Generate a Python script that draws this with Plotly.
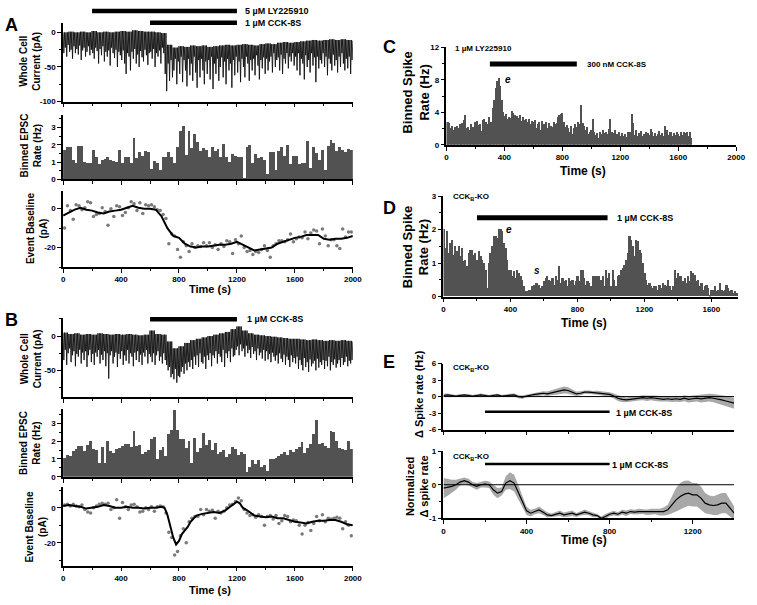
import plotly.graph_objects as go

# ---------------- DATA ----------------
# Panel A: whole-cell current (pA): baseline (every 40 s) and event minima (every 10 s)
a_top = [0, 1, 0, 1, 0, 2, 0, 1, 0, 1, 2, 1, 3, 2, 1, 1, 0, -1, -18, -22,
         -20, -21, -19, -20, -19, -21, -20, -19, -18, -19, -18, -17, -18, -19, -17, -16,
         -17, -15, -14, -15, -14, -13, -12, -11, -12, -11, -10, -11, -10, -11, -12]
a_min = [-30, -22, -35, -18, -28, -25, -38, -20, -30, -24, -32, -19, -40, -26, -22, -35, -28, -20, -33, -25,
         -30, -38, -22, -27, -45, -24, -33, -20, -42, -28, -35, -26, -48, -22, -30, -37, -25, -50, -28, -33,
         -40, -26, -45, -60, -30, -35, -55, -28, -38, -24, -45, -32, -50, -27, -36, -42, -25, -33, -47, -30,
         -28, -38, -24, -50, -30, -35, -26, -45, -22, -30,
         -60, -85, -45, -70, -40, -65, -55, -38, -75, -42,
         -60, -35, -72, -40, -55, -78, -38, -62, -45, -70, -35, -58, -80, -40, -65, -38, -55, -75, -42, -60,
         -40, -68, -35, -82, -45, -60, -38, -70, -50, -36, -65, -42, -75, -38, -55, -45, -80, -40, -62, -35,
         -58, -42, -72, -38, -50, -65, -35, -45, -70, -40, -55, -38, -62, -33, -48, -68, -40, -52, -36, -60,
         -38, -55, -42, -35, -58, -30, -50, -40, -36, -55, -32, -60, -38, -45, -30, -52, -35, -42, -30, -48,
         -35, -55, -30, -62, -38, -45, -68, -33, -50, -40, -58, -30, -48, -36, -72, -35, -52, -40, -45, -30,
         -50, -35, -62, -38, -45, -55, -32, -48, -40, -58, -35, -50, -30, -45, -55, -38, -52, -35, -60, -40]
# Panel A: binned EPSC rate (Hz), 20 s bins
a_rate = [1.7, 1.85, 1.85, 1.1, 0.9, 1.9, 1.9, 1.0, 0.95, 0.9, 1.65, 1.3, 0.85, 1.1, 1.15, 1.3, 1.1, 1.05, 1.0, 1.65,
          0.9, 1.3, 1.3, 0.9, 2.4, 1.2, 1.55, 1.35, 1.6, 1.55, 0.6, 1.05, 0.95, 0.55, 1.25, 1.3, 1.55, 1.3, 0.95, 1.85,
          2.8, 3.05, 1.4, 2.75, 1.8, 2.6, 2.15, 1.6, 1.8, 1.65, 1.3, 1.85, 1.6, 1.75, 1.25, 2.0, 1.3, 1.0, 1.45, 1.35,
          1.25, 1.25, 0.05, 1.85, 1.95, 0.95, 1.45, 1.2, 1.3, 1.1, 0.3, 1.55, 1.55, 0.5, 1.6, 1.85, 1.35, 1.95, 0.85, 1.35,
          1.35, 0.85, 0.9, 0.95, 2.2, 0.65, 1.85, 1.5, 1.1, 1.65, 0.55, 1.9, 2.25, 2.1, 1.6, 1.85, 1.7, 1.55, 1.75, 1.7]
# Panel A: event baseline (pA) - points every 20 s, smoothed line every 40 s
a_pts = [-10, 1.5, -1, -5.5, 2, 1.5, -0.5, 0.5, 3.5, 3, -4, -3, -2.5, 0.5, -1.5, -8.5, 0, -4, 1.5, 1,
         -3.5, -2, 0.5, 3.5, 2.5, -1, 3, -2.5, 2, 1.5, 2, 1, -0.5, -1, -3, -5, -18, -13, -14, -21,
         -25, -17, -19, -22, -18, -20, -19, -19.5, -17.5, -19, -17.5, -20, -18.5, -21, -18, -19.5, -16.5, -17, -23, -16,
         -18, -14, -20, -22, -21.5, -23.5, -22, -22.5, -21, -19, -21.5, -25, -19, -18, -16.5, -16.5, -17, -16, -13, -17,
         -15.5, -14.5, -15, -12, -15.5, -12.5, -11, -11.5, -18, -10.5, -14, -19, -16, -16, -19, -20.5, -10.5, -14.5, -12, -12]
a_line = [-3.5, -2, -0.5, 0.5, -0.5, -1, -2, -2.5, -1.5, -1,
          -0.5, 0.5, 1.5, 0.5, 0, 0, -0.5, -4, -10, -14,
          -15, -18, -19.5, -20, -19.5, -19.5, -19, -18.5, -18.5, -18,
          -17, -18.5, -20, -21.5, -21, -20.5, -20, -18, -17, -16,
          -15, -14.5, -13.5, -13.5, -13.5, -15.5, -16, -15.5, -15.5, -15,
          -14]

# Panel B
b_top = [5, 3, 4, 2, 3, 2, 4, 3, 2, 3, 2, 3, 2, 1, 2, 8, 3, 2, -8, -18,
         -15, -10, -6, -4, -2, 0, 2, 4, 6, 10, 14, 8, 4, 2, 1, 0, -1, -2, -3, -4,
         -4, -5, -6, -5, -6, -7, -6, -7, -6, -7, -8]
b_min = [-35, -20, -42, -25, -18, -38, -28, -22, -44, -26, -30, -20, -40, -24, -35, -22, -45, -28, -20, -38,
         -26, -42, -24, -30, -20, -40, -27, -35, -22, -44, -25, -62, -28, -22, -40, -30, -24, -45, -26, -33,
         -22, -42, -28, -36, -20, -40, -25, -30, -44, -24, -35, -22, -38, -27, -42, -24, -30, -20, -40, -26,
         -30, -38, -25, -42, -28, -22, -36, -30, -40, -25,
         -35, -42, -50, -45, -60, -55, -63, -48, -68, -58,
         -60, -52, -45, -55, -40, -50, -38, -45, -35, -48,
         -30, -42, -28, -45, -25, -38, -40, -30, -48, -28,
         -35, -25, -44, -28, -32, -22, -40, -26, -30, -38, -20, -45, -25, -32, -22, -38, -18, -30, -28, -20,
         -15, -28, -12, -22, -18, -30, -14, -25, -20, -32, -16, -26, -22, -35, -18, -28, -24, -33, -20, -36,
         -22, -34, -26, -38, -24, -30, -36, -28, -40, -25, -33, -38, -27, -42, -30, -35, -45, -28, -38, -32,
         -40, -30, -48, -35, -42, -50, -32, -45, -38, -52, -34, -44, -40, -36, -50, -33, -46, -38, -42, -35,
         -48, -36, -44, -30, -50, -38, -42, -34, -46, -40, -35, -45, -32, -42, -38, -30, -44, -36, -40, -35]
b_rate = [1.05, 1.25, 1.2, 1.45, 1.55, 1.75, 1.75, 1.45, 1.8, 2.0,
          1.55, 1.5, 0.8, 1.65, 0.8, 2.0, 1.45, 1.35, 1.55, 1.6,
          1.75, 1.85, 1.85, 1.65, 2.55, 1.75, 1.8, 1.3, 1.4, 1.5,
          2.1, 2.25, 1.0, 1.5, 1.65, 1.2, 2.4, 2.6, 3.75, 2.65,
          2.15, 2.15, 1.6, 2.0, 0.8, 2.2, 1.4, 1.6, 2.45, 1.8,
          2.05, 1.5, 1.9, 1.3, 1.4, 1.5, 1.1, 1.3, 1.7, 1.55,
          1.25, 1.4, 1.3, 0.3, 0.55, 0.95, 0.75, 0.95, 0.55, 0.65,
          0.35, 1.0, 1.0, 1.05, 1.2, 1.3, 1.4, 1.25, 1.5, 1.4,
          1.55, 1.65, 1.95, 1.35, 1.6, 1.85, 2.4, 3.2, 1.85, 1.9,
          1.75, 1.6, 2.55, 2.5, 2.0, 1.6, 1.55, 1.5, 2.0, 1.55]
b_pts = [1.5, 2, 1, 2, 1, 0.5, 1.5, -1, -2.5, -3, 0, 1, 2, 2.5, 2, 2.5, -1, 0, 4.5, -6,
         3, 0.5, -1, 1.5, 2, 0.5, -2.5, -2, 0, -1, 0.5, -2, 0.5, 1, 0.5, -3, -14, -17, -27, -25,
         -16, -12, -20, -8, -6, -5, -5, -1, -4, -1, -2, -1.5, -6, -2, -3, -2, 0, 1.5, 2, 3.5,
         5.5, 4, -1, -3, -4.5, -4, -5.5, -4, -5, -10, -5, -4.5, -6.5, -4.5, -9, -7.5, -4.5, -5, -8, -7,
         -7.5, -10, -15, -10, -8.5, -13, -9, -5, -7.5, -4, -8, -6, -6.5, -6, -5.5, -6, -12, -8, -10, -16]
b_line_t = [0, 40, 80, 120, 160, 200, 240, 280, 320, 360, 400, 440, 480, 520, 560, 600, 640, 680,
            700, 720, 740, 760, 780, 800, 820, 840, 860, 880, 900, 920, 960, 1000, 1040, 1080, 1120, 1160, 1200,
            1220, 1240, 1280, 1320, 1360, 1400, 1440, 1480, 1520, 1560, 1600, 1640, 1680, 1720, 1760, 1800,
            1840, 1880, 1920, 1960, 2000]
b_line = [1, 1.5, 1, 0.5, -0.5, 0, 0.5, 1.5, 1, 0, 0, 0.5, 0, 0, -0.5, 0, 0, 0.5,
          0, -4, -10, -17, -21, -19, -15, -13, -11, -8, -6, -4.5, -3.5, -3, -2.5, -3, -1.5, 1, 3.5,
          2.5, 0, -2, -4.5, -5, -5.5, -5, -6, -6, -7, -8, -8.5, -9, -8, -7.5, -7.5,
          -7, -7, -8, -9.5, -10]

# Panel C: binned spike rate (Hz), 10 s bins
c_rate = [2.8, 2.8, 2.6, 2.0, 2.3, 1.8, 2.2, 2.3, 2.0, 2.5,
          2.5, 2.6, 3.0, 3.6, 2.0, 2.2, 1.8, 2.5, 2.2, 2.0,
          2.8, 2.9, 2.4, 2.5, 1.7, 3.0, 3.2, 2.8, 2.5, 3.4,
          2.5, 2.8, 4.5, 5.5, 7.0, 7.8, 8.2, 7.2, 5.5, 4.0,
          3.5, 3.8, 3.2, 3.4, 3.3, 4.1, 3.9, 3.6, 3.0, 3.5,
          3.3, 3.6, 2.9, 3.4, 3.0, 3.2, 2.8, 3.1, 2.5, 2.9,
          2.8, 3.0, 2.0, 2.5, 2.8, 1.8, 2.9, 2.5, 2.2, 2.8,
          2.0, 2.6, 2.3, 2.2, 2.8, 2.5, 2.6, 3.4, 3.6, 3.8,
          3.9, 2.8, 2.2, 2.4, 2.0, 1.6, 2.3, 1.3, 2.0, 2.5,
          2.2, 2.8, 2.5, 4.9, 2.6, 2.3, 1.8, 2.2, 1.3, 1.5,
          1.8, 3.1, 1.5, 1.2, 1.4, 0.8, 1.6, 1.3, 1.8, 1.4,
          1.6, 1.3, 1.9, 3.1, 1.5, 1.4, 1.8, 1.2, 1.3, 1.6,
          1.0, 1.4, 1.1, 1.3, 0.9, 1.5, 1.2, 1.6, 3.7, 2.6,
          1.2, 1.8, 1.0, 1.4, 1.7, 1.0, 1.3, 1.0, 1.6, 1.4,
          1.2, 1.9, 1.5, 1.1, 1.4, 1.0, 1.3, 1.7, 1.2, 1.4,
          1.1, 2.3, 1.8, 1.2, 1.5, 1.6, 1.0, 1.4, 1.2, 1.6,
          1.3, 1.0, 1.5, 1.2, 1.6, 1.4, 1.5, 1.0, 1.6, 0.8]

# Panel D: binned spike rate (Hz), 10 s bins
d_rate = [2.0, 1.45, 1.95, 1.3, 1.6, 1.7, 1.25, 1.5, 1.35, 1.5,
          1.2, 1.45, 1.05, 1.1, 0.9, 1.3, 1.4, 1.4, 1.25, 1.3,
          1.1, 1.35, 1.2, 1.1, 1.0, 0.8, 0.25, 1.0, 1.3, 1.5,
          1.8, 1.8, 1.75, 2.0, 2.0, 1.95, 1.6, 1.45, 1.1, 0.8,
          0.8, 0.6, 0.75, 0.55, 0.8, 0.7, 0.6, 0.5, 0.3, 0.15,
          0.15, 0.2, 0.2, 0.3, 0.35, 0.4, 0.4, 0.35, 0.25, 0.3,
          0.45, 0.55, 0.6, 0.5, 0.45, 0.55, 0.35, 0.6, 0.5, 0.9,
          0.4, 0.55, 0.45, 0.5, 0.3, 0.55, 0.45, 0.5, 0.35, 0.45,
          0.6, 0.45, 0.8, 0.8, 0.55, 0.35, 0.45, 0.4, 0.3, 0.6,
          0.6, 0.6, 0.6, 0.6, 0.5, 0.6, 0.3, 0.8, 0.55, 0.7,
          0.3, 0.8, 0.5, 0.3, 0.6, 0.65, 0.8, 0.85, 0.95, 1.1,
          1.3, 1.8, 1.7, 1.5, 1.2, 1.7, 1.65, 1.4, 1.3, 1.0,
          0.7, 0.5, 0.35, 0.4, 0.3, 0.25, 0.3, 0.3, 0.2, 0.35,
          0.25, 0.4, 0.35, 0.3, 0.5, 0.3, 0.2, 0.3, 0.8, 0.55,
          0.7, 0.6, 0.6, 0.45, 0.55, 0.4, 0.6, 0.45, 0.75, 0.7,
          0.65, 0.45, 0.5, 0.3, 0.4, 0.2, 0.3, 0.35, 0.25, 0.05,
          0.2, 0.2, 0.3, 0.15, 0.2, 0.4, 0.2, 0.15, 0.2, 0.35,
          0.25, 0.15, 0.2, 0.1, 0.15, 0.1]

# Panel E: mean +/- SEM every 20 s
e1_mean = [0.2, 0.3, 0.2, 0.1, 0.2, 0.3, 0.2, 0.1, 0.2, 0.3, 0.2,
           0.1, 0.2, 0.3, 0.1, 0.2, 0.2, 0.3, 0.0, -0.1, 0.1,
           0.3, 0.4, 0.5, 0.6, 0.5, 0.7, 0.9, 1.1, 1.2, 1.1,
           0.8, 0.5, 0.6, 0.8, 0.8, 0.7, 0.7, 0.6, 0.5, 0.4,
           0.1, -0.3, -0.5, -0.6, -0.5, -0.4, -0.3, -0.2, -0.3, -0.2,
           -0.3, -0.4, -0.5, -0.4, -0.5, -0.4, -0.5, -0.3, -0.5, -0.4,
           -0.3, -0.4, -0.3, -0.2, -0.3, -0.4, -0.6, -0.8, -1.0, -1.2]
e1_sem = [0.3, 0.25, 0.2, 0.2, 0.25, 0.2, 0.25, 0.2, 0.2, 0.25, 0.2,
          0.2, 0.25, 0.2, 0.2, 0.25, 0.3, 0.25, 0.3, 0.3, 0.25,
          0.3, 0.3, 0.35, 0.35, 0.4, 0.45, 0.55, 0.6, 0.65, 0.6,
          0.5, 0.4, 0.35, 0.3, 0.3, 0.3, 0.35, 0.35, 0.4, 0.4,
          0.45, 0.5, 0.5, 0.45, 0.5, 0.45, 0.4, 0.45, 0.5, 0.45,
          0.5, 0.5, 0.45, 0.5, 0.5, 0.55, 0.5, 0.55, 0.6, 0.6,
          0.6, 0.7, 0.75, 0.7, 0.75, 0.8, 0.85, 0.9, 0.95, 1.0]
e2_mean = [-0.1, -0.08, -0.05, 0.0, 0.08, 0.12, 0.08, 0.0, -0.05, 0.0, 0.02,
           0.0, -0.15, -0.25, -0.2, 0.05, 0.12, 0.05, -0.2, -0.5, -0.78,
           -0.85, -0.8, -0.75, -0.82, -0.9, -0.92, -0.88, -0.85, -0.9, -0.88,
           -0.85, -0.9, -0.85, -0.82, -0.85, -0.9, -0.92, -1.0, -0.95, -0.88,
           -0.85, -0.88, -0.82, -0.85, -0.8, -0.82, -0.8, -0.8, -0.82, -0.8,
           -0.8, -0.82, -0.8, -0.75, -0.6, -0.45, -0.35, -0.28, -0.25, -0.3,
           -0.3, -0.4, -0.55, -0.6, -0.62, -0.6, -0.55, -0.55, -0.7, -0.85]
e2_sem = [0.3, 0.25, 0.2, 0.15, 0.1, 0.1, 0.1, 0.08, 0.1, 0.08, 0.1,
          0.1, 0.15, 0.15, 0.12, 0.2, 0.25, 0.25, 0.2, 0.15, 0.12,
          0.1, 0.08, 0.1, 0.08, 0.08, 0.06, 0.07, 0.08, 0.07, 0.08,
          0.08, 0.06, 0.07, 0.08, 0.06, 0.07, 0.05, 0.05, 0.08, 0.06,
          0.07, 0.06, 0.07, 0.08, 0.07, 0.07, 0.08, 0.07, 0.08, 0.08,
          0.08, 0.1, 0.12, 0.15, 0.25, 0.35, 0.4, 0.4, 0.38, 0.35,
          0.35, 0.35, 0.3, 0.28, 0.28, 0.3, 0.3, 0.3, 0.25, 0.2]

time_ticks_2000 = [0, 400, 800, 1200, 1600, 2000]
time_ticks_1600 = [0, 400, 800, 1200, 1600]
time_ticks_1200 = [0, 400, 800, 1200]

# ---------------- FIGURE ----------------
W, H = 757, 605
def fx(px):
    return px / W
def fy(py):
    return 1 - py / H

FONT = "Liberation Sans"
TF = dict(family=FONT, size=8, color="black", weight="bold")
TRACE_C = "#111111"
BAR_C = "#525252"

fig = go.Figure()

def ax_names(i):
    return ("x" if i == 1 else f"x{i}"), ("y" if i == 1 else f"y{i}")

def build_trace(top, mins, step=10):
    xs, ys = [], []
    for k, m in enumerate(mins):
        xs += [step * k, step * k + step / 2]
        ys += [top[k // 4], m]
    xs.append(step * len(mins))
    ys.append(top[len(mins) // 4])
    return xs, ys

# A top
xa, ya = build_trace(a_top, a_min)
fig.add_trace(go.Scatter(x=xa, y=ya, mode="lines", line=dict(color=TRACE_C, width=0.9), xaxis="x", yaxis="y"))
# A bars
fig.add_trace(go.Bar(x=[20 * i + 10 for i in range(len(a_rate))], y=a_rate, width=20,
                     marker=dict(color=BAR_C, line=dict(width=0)), xaxis="x2", yaxis="y2"))
# A event
fig.add_trace(go.Scatter(x=[20 * i + 10 for i in range(len(a_pts))], y=a_pts, mode="markers",
                         marker=dict(color="#7a7a7a", size=3.5), xaxis="x3", yaxis="y3"))
fig.add_trace(go.Scatter(x=[40 * i for i in range(len(a_line))], y=a_line, mode="lines",
                         line=dict(color="black", width=2), xaxis="x3", yaxis="y3"))
# B top
xb, yb = build_trace(b_top, b_min)
fig.add_trace(go.Scatter(x=xb, y=yb, mode="lines", line=dict(color=TRACE_C, width=0.9), xaxis="x4", yaxis="y4"))
# B bars
fig.add_trace(go.Bar(x=[20 * i + 10 for i in range(len(b_rate))], y=b_rate, width=20,
                     marker=dict(color=BAR_C, line=dict(width=0)), xaxis="x5", yaxis="y5"))
# B event
fig.add_trace(go.Scatter(x=[20 * i + 10 for i in range(len(b_pts))], y=b_pts, mode="markers",
                         marker=dict(color="#7a7a7a", size=3.5), xaxis="x6", yaxis="y6"))
fig.add_trace(go.Scatter(x=b_line_t, y=b_line, mode="lines",
                         line=dict(color="black", width=2), xaxis="x6", yaxis="y6"))
# C bars
fig.add_trace(go.Bar(x=[10 * i + 5 for i in range(len(c_rate))], y=c_rate, width=10,
                     marker=dict(color=BAR_C, line=dict(width=0)), xaxis="x7", yaxis="y7"))
# D bars
fig.add_trace(go.Bar(x=[10 * i + 5 for i in range(len(d_rate))], y=d_rate, width=10,
                     marker=dict(color=BAR_C, line=dict(width=0)), xaxis="x8", yaxis="y8"))
# E top band + mean
et = [20 * i for i in range(len(e1_mean))]
fig.add_trace(go.Scatter(x=et + et[::-1],
                         y=[m + s for m, s in zip(e1_mean, e1_sem)] + [m - s for m, s in zip(e1_mean, e1_sem)][::-1],
                         fill="toself", fillcolor="#a8a8a8", line=dict(width=0), mode="lines",
                         xaxis="x9", yaxis="y9"))
fig.add_trace(go.Scatter(x=et, y=e1_mean, mode="lines", line=dict(color="black", width=1.2),
                         xaxis="x9", yaxis="y9"))
# E bottom
et2 = [20 * i for i in range(len(e2_mean))]
fig.add_trace(go.Scatter(x=et2 + et2[::-1],
                         y=[m + s for m, s in zip(e2_mean, e2_sem)] + [m - s for m, s in zip(e2_mean, e2_sem)][::-1],
                         fill="toself", fillcolor="#a8a8a8", line=dict(width=0), mode="lines",
                         xaxis="x10", yaxis="y10"))
fig.add_trace(go.Scatter(x=et2, y=e2_mean, mode="lines", line=dict(color="black", width=1.2),
                         xaxis="x10", yaxis="y10"))

def xaxis_cfg(i, xdom, rng, tickvals, labels, minor_vals):
    _, ya_ = ax_names(i)
    return dict(domain=[fx(xdom[0]), fx(xdom[1])], range=rng, anchor=ya_,
                showline=True, linecolor="black", linewidth=1.5, mirror=False,
                ticks="outside", ticklen=4, tickwidth=1.2, tickcolor="black",
                tickmode="array", tickvals=tickvals, ticktext=[str(v) for v in tickvals],
                showticklabels=labels, tickfont=TF, showgrid=False, zeroline=False,
                minor=dict(ticks="outside", ticklen=2.5, tickwidth=1, tickcolor="black",
                           tickmode="array", tickvals=minor_vals, showgrid=False))

def yaxis_cfg(i, ydom, rng, tickvals, minor_vals):
    xa_, _ = ax_names(i)
    return dict(domain=[fy(ydom[1]), fy(ydom[0])], range=rng, anchor=xa_,
                showline=True, linecolor="black", linewidth=1.5, mirror=False,
                ticks="outside", ticklen=4, tickwidth=1.2, tickcolor="black",
                tickmode="array", tickvals=tickvals,
                ticktext=[str(v) for v in tickvals],
                tickfont=TF, showgrid=False, zeroline=False,
                minor=dict(ticks="outside", ticklen=2.5, tickwidth=1, tickcolor="black",
                           tickmode="array", tickvals=minor_vals, showgrid=False))

mnr2000 = [200, 600, 1000, 1400, 1800]
mnr1760 = [200, 600, 1000, 1400]
mnr1400 = [200, 600, 1000]
LEFT = (62, 356)

axes = {
    1: (LEFT, (19, 99), [0, 2000], time_ticks_2000, False, mnr2000, [-100, 14], [0, -50, -100], [-25, -75]),
    2: (LEFT, (113, 178), [0, 2000], time_ticks_2000, False, mnr2000, [0, 3.7], [0, 1, 2, 3], [0.5, 1.5, 2.5, 3.5]),
    3: (LEFT, (190, 267), [0, 2000], time_ticks_2000, True, mnr2000, [-30, 9], [0, -20], [-10, -30]),
    4: (LEFT, (319, 399), [0, 2000], time_ticks_2000, False, mnr2000, [-89, 26], [0, -50], [25, -25, -75]),
    5: (LEFT, (411, 480), [0, 2000], time_ticks_2000, False, mnr2000, [0, 3.8], [0, 1, 2, 3], [0.5, 1.5, 2.5, 3.5]),
    6: (LEFT, (490, 570), [0, 2000], time_ticks_2000, True, mnr2000, [-33, 12], [0, -20], [10, -10, -30]),
    7: ((451, 745), (44, 143), [0, 2000], time_ticks_2000, True, mnr2000, [0, 12], [0, 4, 8, 12], [2, 6, 10]),
    8: ((448, 747), (195, 297), [0, 1760], time_ticks_1600, True, mnr1760, [0, 3], [0, 1, 2, 3], [0.5, 1.5, 2.5]),
    9: ((448, 743), (365, 432), [0, 1400], time_ticks_1200, False, mnr1400, [-6, 6], [-6, -3, 0, 3, 6], []),
    10: ((448, 743), (454, 522), [0, 1400], time_ticks_1200, True, mnr1400, [-1, 1], [-1, 0, 1], [-0.5, 0.5]),
}
layout_axes = {}
for i, (xdom, ydom, xr, xt, xl, xm, yr, yt, ym) in axes.items():
    xk = "xaxis" if i == 1 else f"xaxis{i}"
    yk = "yaxis" if i == 1 else f"yaxis{i}"
    layout_axes[xk] = xaxis_cfg(i, xdom, xr, xt, xl, xm)
    layout_axes[yk] = yaxis_cfg(i, ydom, yr, yt, ym)

fig.update_layout(**layout_axes)

# drug application bars (x in data units, y in page position)
def drug_bar(xref, x0, x1, py, w):
    fig.add_shape(type="line", xref=xref, yref="paper", x0=x0, x1=x1, y0=fy(py), y1=fy(py),
                  line=dict(color="black", width=w), layer="above")

drug_bar("x", 200, 1200, 7, 4.5)
drug_bar("x", 600, 1200, 19, 4.5)
drug_bar("x4", 600, 1200, 320, 4.5)
drug_bar("x7", 300, 900, 61, 5)
drug_bar("x8", 200, 980, 217, 5)
drug_bar("x9", 200, 800, 414, 2.5)
drug_bar("x10", 200, 800, 467, 2.5)
# zero lines in E
fig.add_shape(type="line", xref="x9", yref="y9", x0=0, x1=1400, y0=0, y1=0, line=dict(color="black", width=1))
fig.add_shape(type="line", xref="x10", yref="y10", x0=0, x1=1400, y0=0, y1=0, line=dict(color="black", width=1))

def ann(text, px, py, size, xanchor="center", angle=0):
    fig.add_annotation(text=text, x=fx(px), y=fy(py), xref="paper", yref="paper",
                       xanchor=xanchor, yanchor="middle", showarrow=False, textangle=angle,
                       font=dict(family=FONT, size=size, color="black", weight="bold"))

# panel letters
ann("A", 10, 21, 18)
ann("B", 10, 321, 18)
ann("C", 393, 44, 18)
ann("D", 393, 207, 18)
ann("E", 393, 363, 18)

# drug labels
ann("5 \u00b5M LY225910", 245, 7, 9, "left")
ann("1 \u00b5M CCK-8S", 245, 19, 9, "left")
ann("1 \u00b5M CCK-8S", 247, 320, 9, "left")
ann("1 \u00b5M LY225910", 458, 45, 8, "left")
ann("300 nM CCK-8S", 592, 61, 8, "left")
ann("CCK<sub>B</sub>-KO", 456, 196, 8, "left")
ann("1 \u00b5M CCK-8S", 622, 217, 9, "left")
ann("CCK<sub>B</sub>-KO", 456, 369, 8, "left")
ann("1 \u00b5M CCK-8S", 621, 415, 9, "left")
ann("CCK<sub>B</sub>-KO", 456, 460, 8, "left")
ann("1 \u00b5M CCK-8S", 617, 468, 9, "left")
ann("<i>e</i>", 513, 77, 10)
ann("<i>e</i>", 514, 229, 10)
ann("<i>s</i>", 543, 271, 10)

# axis titles
ann("Whole Cell<br>Current (pA)", 29, 58, 10, angle=-90)
ann("Binned EPSC<br>Rate (Hz)", 29, 144, 10, angle=-90)
ann("Event Baseline<br>(pA)", 35, 227, 10, angle=-90)
ann("Whole Cell<br>Current (pA)", 29, 360, 10, angle=-90)
ann("Binned EPSC<br>Rate (Hz)", 29, 446, 10, angle=-90)
ann("Event Baseline<br>(pA)", 35, 530, 10, angle=-90)
ann("Binned Spike<br>Rate (Hz)", 420, 90, 13, angle=-90)
ann("Binned Spike<br>Rate (Hz)", 420, 247, 13, angle=-90)
ann("\u0394 Spike rate (Hz)", 423, 396, 11, angle=-90)
ann("Normalized<br>\u0394 spike rate", 421, 490, 11, angle=-90)

ann("Time (s)", 211, 289, 11)
ann("Time (s)", 211, 595, 11)
ann("Time (s)", 590, 170, 12)
ann("Time (s)", 591, 324, 12)
ann("Time (s)", 591, 544, 12)

fig.update_layout(width=W, height=H, margin=dict(l=0, r=0, t=0, b=0),
                  paper_bgcolor="white", plot_bgcolor="white", showlegend=False,
                  bargap=0, font=dict(family=FONT, color="black"))

fig.write_html("out.html", config={"displayModeBar": False},
               post_script="document.body.style.margin='0px';document.body.style.padding='0px';")
